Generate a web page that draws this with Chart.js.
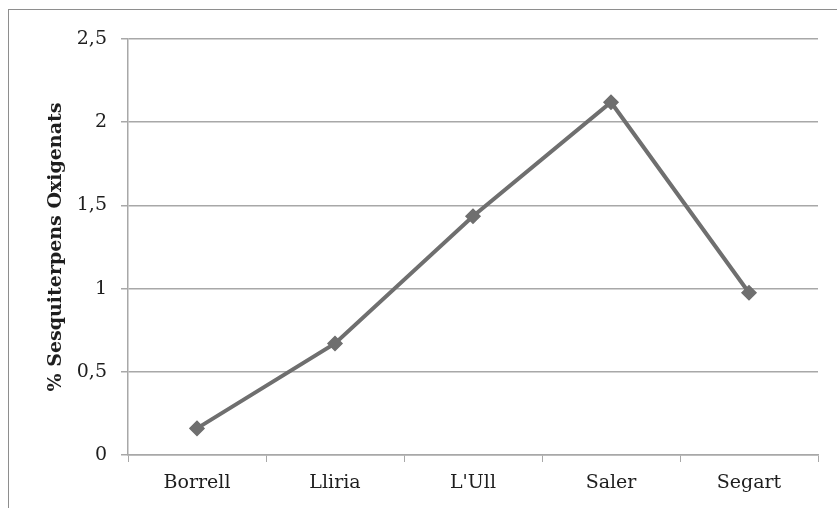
<!DOCTYPE html>
<html>
<head>
<meta charset="utf-8">
<script src="https://cdn.jsdelivr.net/npm/chart.js@4/dist/chart.umd.min.js"></script>
<style>
  html, body { margin: 0; padding: 0; background: #fff; overflow: hidden; }
  #frame { position: absolute; left: 8px; top: 9px; width: 900px; height: 600px; border: 1.5px solid #8e8e8e; box-sizing: border-box; }
  #wrap { position: absolute; left: 0; top: 0; width: 837px; height: 508px; }
</style>
</head>
<body>
<div id="frame"></div>
<div id="wrap"><canvas id="c" width="837" height="508"></canvas></div>
<script>
// Sampling sites and the share of oxygenated sesquiterpenes in each
const categories = ['Borrell', 'Lliria', "L'Ull", 'Saler', 'Segart'];
const sesquiterpenValues = [0.16, 0.67, 1.435, 2.12, 0.975];
const yTicks = [0, 0.5, 1, 1.5, 2, 2.5];

const serif = "'DejaVu Serif', 'Liberation Serif', serif";
const gridGray = '#a8a8a8';

new Chart(document.getElementById('c'), {
  type: 'line',
  data: {
    labels: categories,
    datasets: [{
      data: sesquiterpenValues,
      borderColor: '#6f6f6f',
      backgroundColor: '#6f6f6f',
      borderWidth: 4,
      pointStyle: 'rectRot',
      pointRadius: 7,
      pointBorderWidth: 1.5,
      pointBorderColor: '#6f6f6f',
      pointBackgroundColor: '#6f6f6f',
      tension: 0,
      fill: false
    }]
  },
  options: {
    responsive: false,
    animation: false,
    devicePixelRatio: 1,
    layout: { padding: { left: 45, top: 39, right: 19, bottom: 0 } },
    plugins: { legend: { display: false }, tooltip: { enabled: false } },
    scales: {
      x: {
        type: 'category',
        offset: true,
        grid: { display: true, drawOnChartArea: false, drawTicks: true, tickLength: 7, color: gridGray, offset: true },
        border: { color: gridGray, width: 1.5 },
        ticks: { color: '#1e1e1e', font: { family: serif, size: 19 }, padding: 10, maxRotation: 0 },
        afterFit: (s) => { s.height = 508 - 455; }
      },
      y: {
        min: 0,
        max: 2.5,
        afterBuildTicks: (s) => { s.ticks = yTicks.map(v => ({ value: v })); },
        grid: { color: gridGray, lineWidth: 1.5, drawTicks: true, tickLength: 7 },
        border: { color: gridGray, width: 1.5 },
        ticks: {
          color: '#1e1e1e',
          font: { family: serif, size: 19 },
          padding: 14,
          callback: (v) => String(v).replace('.', ',')
        },
        title: {
          display: true,
          text: '% Sesquiterpens Oxigenats',
          color: '#1e1e1e',
          font: { family: serif, size: 19, weight: 'bold' },
          padding: { top: 0, bottom: 0 }
        },
        afterFit: (s) => { s.width = 128 - 45; }
      }
    }
  }
});
</script>
</body>
</html>
